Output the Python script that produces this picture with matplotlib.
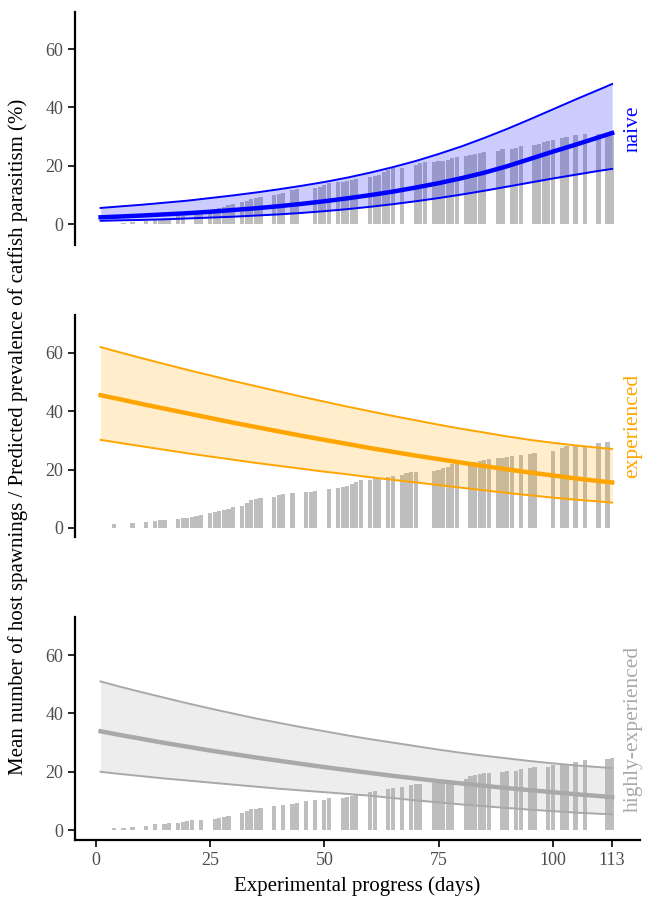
import matplotlib
matplotlib.use("Agg")
import matplotlib.pyplot as plt

plt.rcParams['font.family'] = ['Liberation Serif', 'DejaVu Serif']

# ---- bars: mean number of host spawnings per day ----
days_naive = [6, 8, 11, 13, 14, 15, 16, 18, 19, 22, 23, 25, 26, 27, 28, 29, 30,
              32, 33, 34, 35, 36, 39, 40, 41, 43, 44, 48, 49, 50, 51, 53, 54, 55, 56, 57,
              60, 61, 62, 63, 64, 65, 67, 70, 71, 72, 74, 75, 76, 77, 78, 79,
              81, 82, 83, 84, 85, 88, 89, 91, 92, 93, 96, 97, 98, 99, 100,
              102, 103, 105, 107, 110, 112, 113]
spawn_naive = [0.5, 0.7, 1.0, 1.5, 1.7, 1.9, 2.1, 2.6, 2.9, 3.6, 4.0, 4.5, 5.0, 5.5, 6.0, 6.5, 7.0,
               7.6, 8.0, 8.5, 8.9, 9.4, 9.9, 10.2, 10.5, 11.7, 11.9, 12.2, 12.8, 13.4, 13.9,
               14.3, 14.5, 14.9, 15.1, 15.3,
               16.2, 16.5, 16.8, 17.9, 18.5, 19.1, 19.3, 20.2, 20.8, 21.1,
               21.4, 21.6, 21.7, 21.9, 22.5, 23.1, 23.3, 23.7, 24.0, 24.5, 24.6,
               25.1, 25.6, 25.7, 26.2, 26.7, 27.1, 27.4, 28.2, 28.5, 28.8,
               29.4, 29.9, 30.4, 30.7, 30.9, 31.1, 32.0]

days_exp = [4, 8, 11, 13, 14, 15, 18, 19, 20, 21, 22, 23, 25, 26, 27, 28, 29, 30,
            32, 33, 34, 35, 36, 39, 40, 41, 43, 46, 47, 48, 51, 53, 54, 55, 56, 57, 58,
            60, 61, 62, 64, 65, 67, 68, 69, 70, 74, 75, 76, 77, 78, 79,
            82, 83, 84, 85, 86, 88, 89, 90, 91, 93, 95, 96, 100, 102, 103, 105, 107, 110, 112]
spawn_exp = [1.3, 1.6, 2.0, 2.4, 2.6, 2.7, 3.1, 3.3, 3.4, 3.7, 4.2, 4.6, 5.1, 5.5, 5.9, 6.2, 6.6, 7.1,
             7.4, 8.6, 9.5, 9.8, 10.2, 10.5, 11.3, 11.7, 11.9, 12.2, 12.4, 12.8, 13.3,
             13.8, 14.2, 14.4, 15.1, 15.9, 16.4, 16.5, 17.0, 17.0, 17.6, 17.8,
             18.2, 18.7, 19.1, 19.3, 19.5, 19.9, 20.5, 21.0, 21.8, 22.2,
             22.5, 22.7, 23.0, 23.3, 23.8, 23.9, 24.1, 24.3, 24.7, 25.0, 25.4, 25.8,
             26.4, 27.3, 28.2, 28.5, 28.2, 29.0, 29.4]

days_high = [4, 6, 8, 11, 13, 15, 16, 18, 19, 20, 21, 23, 26, 27, 28, 29,
             32, 33, 34, 35, 36, 39, 41, 43, 44, 46, 48, 50, 51, 54, 55, 56, 57,
             60, 61, 64, 65, 67, 69, 70, 71, 74, 75, 76, 77, 78, 81, 82, 83, 84, 85, 86,
             89, 90, 92, 93, 95, 96, 99, 100, 102, 103, 105, 107, 112, 113]
spawn_high = [0.6, 0.8, 1.1, 1.3, 2.0, 2.0, 2.3, 2.5, 2.7, 3.2, 3.3, 3.4, 3.7, 4.1, 4.5, 5.0,
              5.7, 6.5, 7.1, 7.3, 7.5, 8.1, 8.7, 9.0, 9.3, 9.9, 10.2, 10.4, 10.9,
              11.1, 11.4, 11.8, 12.3, 13.1, 13.4, 14.2, 14.5, 14.7, 15.4, 15.7, 15.8,
              16.1, 16.1, 16.1, 16.2, 16.2, 17.4, 18.5, 18.9, 19.4, 19.6, 19.6,
              20.0, 20.2, 20.3, 20.9, 21.4, 21.5, 21.6, 22.4, 22.7, 22.7, 23.2, 24.0, 24.3, 24.6]

# ---- predicted prevalence (%) with confidence band ----
pred_days = [1, 5, 10, 15, 20, 25, 30, 35, 40, 45, 50, 55, 60,
             65, 70, 75, 80, 85, 90, 95, 100, 105, 110, 113]

naive_fit = [2.3, 2.55, 2.9, 3.3, 3.7, 4.2, 4.8, 5.4, 6.1, 6.9, 7.8, 8.8, 9.9,
             11.1, 12.5, 14.0, 15.7, 17.6, 19.8, 22.3, 24.8, 27.2, 29.7, 31.2]
naive_hi = [5.5, 6.0, 6.6, 7.3, 8.0, 8.9, 9.8, 10.8, 11.9, 13.1, 14.4, 15.9, 17.6,
            19.5, 21.6, 24.0, 26.6, 29.5, 32.6, 35.9, 39.3, 42.7, 46.0, 48.0]
naive_lo = [1.1, 1.25, 1.4, 1.6, 1.9, 2.2, 2.5, 2.9, 3.3, 3.8, 4.4, 5.1, 5.9,
            6.8, 7.8, 8.9, 10.1, 11.4, 12.8, 14.2, 15.6, 16.9, 18.2, 18.9]

exp_fit = [45.5, 44.2, 42.5, 40.9, 39.3, 37.7, 36.1, 34.6, 33.1, 31.6, 30.2, 28.8, 27.4,
           26.1, 24.8, 23.6, 22.4, 21.2, 20.1, 19.0, 18.0, 17.0, 16.1, 15.6]
exp_hi = [62.0, 60.3, 58.2, 56.2, 54.2, 52.3, 50.4, 48.6, 46.8, 45.0, 43.3, 41.6, 40.0,
          38.4, 36.9, 35.4, 34.0, 32.7, 31.4, 30.2, 29.2, 28.3, 27.5, 27.1]
exp_lo = [30.2, 29.2, 28.0, 26.8, 25.6, 24.5, 23.4, 22.3, 21.3, 20.3, 19.3, 18.4, 17.4,
          16.5, 15.6, 14.7, 13.8, 12.9, 12.0, 11.2, 10.4, 9.7, 9.1, 8.7]

high_fit = [33.9, 32.7, 31.3, 29.9, 28.6, 27.3, 26.1, 24.9, 23.8, 22.7, 21.6, 20.6, 19.6,
            18.6, 17.7, 16.8, 16.0, 15.2, 14.4, 13.7, 13.0, 12.3, 11.7, 11.3]
high_hi = [51.0, 49.3, 47.3, 45.4, 43.5, 41.7, 40.0, 38.3, 36.8, 35.3, 33.9, 32.5, 31.2,
           30.0, 28.8, 27.6, 26.5, 25.5, 24.6, 23.7, 22.9, 22.2, 21.6, 21.3]
high_lo = [20.0, 19.3, 18.5, 17.7, 17.0, 16.3, 15.6, 14.9, 14.2, 13.6, 13.0, 12.4, 11.8,
           11.0, 10.2, 9.5, 8.8, 8.2, 7.6, 7.0, 6.5, 6.0, 5.6, 5.4]

groups = ['naive', 'experienced', 'highly-experienced']
colors = ['#0000FF', '#FFA500', '#A9A9A9']

panels = [
    (days_naive, spawn_naive, naive_fit, naive_hi, naive_lo),
    (days_exp, spawn_exp, exp_fit, exp_hi, exp_lo),
    (days_high, spawn_high, high_fit, high_hi, high_lo),
]

# panel boxes in pixels (top, bottom) and y-limits
W, H = 646, 900
boxes = [(12, 245), (315, 537), (617, 840)]
ylims = [(-7.2, 72.7), (-3.1, 73.0), (-3.4, 73.1)]

fig = plt.figure(figsize=(W / 100, H / 100), dpi=100)
left = 75 / W
width = (640 - 75) / W

for i, (d, s, fit, hi, lo) in enumerate(panels):
    top, bot = boxes[i]
    ax = fig.add_axes([left, 1 - bot / H, width, (bot - top) / H])
    ax.bar(d, s, width=0.92, color='#BEBEBE', linewidth=0, zorder=1)
    ax.fill_between(pred_days, lo, hi, color=colors[i], alpha=0.2, linewidth=0, zorder=2)
    ax.plot(pred_days, hi, color=colors[i], lw=1.4, zorder=3)
    ax.plot(pred_days, lo, color=colors[i], lw=1.4, zorder=3)
    ax.plot(pred_days, fit, color=colors[i], lw=3.2, zorder=4)

    ax.set_xlim(-4.6, 119.1)
    ax.set_ylim(*ylims[i])
    ax.set_yticks([0, 20, 40, 60])
    ax.tick_params(axis='y', labelsize=13, labelcolor='#4D4D4D', length=5, width=1.2)
    for sp in ['top', 'right']:
        ax.spines[sp].set_visible(False)
    ax.spines['left'].set_linewidth(1.6)
    if i < 2:
        ax.spines['bottom'].set_visible(False)
        ax.set_xticks([])
    else:
        ax.spines['bottom'].set_linewidth(1.6)
        ax.set_xticks([0, 25, 50, 75, 100, 113])
        ax.tick_params(axis='x', labelsize=13, labelcolor='#4D4D4D', length=5, width=1.2)
    ax.patch.set_alpha(0)

    fig.text(633 / W, 1 - (top + bot) / 2 / H, groups[i], rotation=90,
             color=colors[i], fontsize=15.5, ha='center', va='center')

fig.text(18 / W, 1 - 437 / H,
         'Mean number of host spawnings / Predicted prevalence of catfish parasitism (%)',
         rotation=90, fontsize=15, ha='center', va='center')
fig.text(357 / W, 1 - 886 / H, 'Experimental progress (days)',
         fontsize=15, ha='center', va='center')

fig.savefig('out.png', dpi=100)
